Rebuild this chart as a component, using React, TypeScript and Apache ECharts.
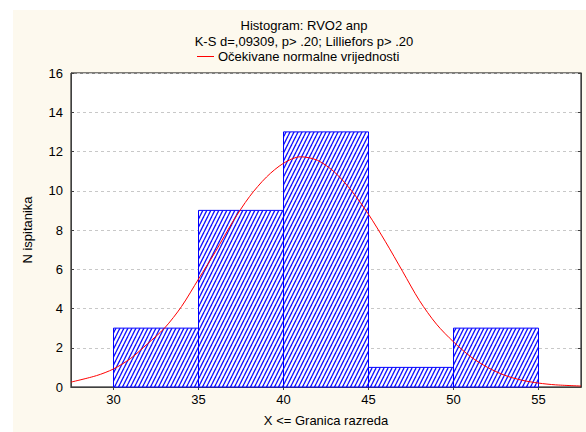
import React, { useEffect, useRef } from "react";
import * as echarts from "echarts";

// Histogram bins: lower bound, upper bound, count
const binStarts = [30, 35, 40, 45, 50];
const binEnds = [35, 40, 45, 50, 55];
const binCounts = [3, 9, 13, 1, 3];

// Expected normal curve
const curveX = [27.5, 29, 30, 31, 32, 33, 34, 35, 36, 37, 38, 39, 40, 41, 42, 43, 44, 45, 46, 47, 48, 49, 50, 51, 52, 53, 54, 55, 56, 57.5];
const curveY = [0.25, 0.58, 0.92, 1.45, 2.2, 3.0, 4.1, 5.5, 6.9, 8.4, 9.7, 10.7, 11.4, 11.73, 11.55, 10.95, 10.0, 8.8, 7.4, 5.9, 4.4, 3.2, 2.3, 1.55, 1.0, 0.6, 0.35, 0.2, 0.11, 0.05];

const xTicks = [30, 35, 40, 45, 50, 55];

const titleLine1 = "Histogram: RVO2 anp";
const titleLine2 = "K-S d=,09309, p> .20; Lilliefors p> .20";
const legendName = "Očekivane normalne vrijednosti";
const xName = "X <= Granica razreda";
const yName = "N ispitanika";

const FONT = "'Liberation Sans', Arial, sans-serif";
const FS = 13;

export default function App() {
  const ref = useRef<HTMLDivElement>(null);
  useEffect(() => {
    document.body.style.margin = "0";
    if (!ref.current) return;
    const chart = echarts.init(ref.current, null, { renderer: "svg" });

    const c = document.createElement("canvas");
    c.width = 4;
    c.height = 8;
    const ctx = c.getContext("2d")!;
    ctx.fillStyle = "#ffffff";
    ctx.fillRect(0, 0, 4, 8);
    ctx.strokeStyle = "#1010ff";
    ctx.lineWidth = 1.35;
    for (const k of [-4, 0, 4]) {
      ctx.beginPath();
      ctx.moveTo(k, 8);
      ctx.lineTo(k + 4, 0);
      ctx.stroke();
    }
    const pattern: any = { image: c, repeat: "repeat" };

    const bins = binStarts.map((s, i) => [s, binEnds[i], binCounts[i]]);
    const curve = curveX.map((x, i) => [x, curveY[i]]);

    const gridLeft = 71, gridTop = 73, gridW = 510, gridH = 320;

    chart.setOption({
      animation: false,
      backgroundColor: "#ffffff",
      textStyle: { fontFamily: FONT },
      graphic: [
        {
          type: "rect",
          z: -10,
          silent: true,
          shape: { x: 13, y: 10, width: 573, height: 422 },
          style: { fill: "#fdf9ee" },
        },
        {
          type: "text",
          x: 304,
          y: 25,
          style: {
            text: titleLine1,
            textAlign: "center",
            textVerticalAlign: "middle",
            fontSize: FS,
            fontFamily: FONT,
            fill: "#000",
          },
        },
        {
          type: "text",
          x: 304,
          y: 41,
          style: {
            text: titleLine2,
            textAlign: "center",
            textVerticalAlign: "middle",
            fontSize: FS,
            fontFamily: FONT,
            fill: "#000",
          },
        },
      ],
      legend: {
        data: [{ name: legendName, icon: "rect" }],
        left: 197,
        top: 50,
        itemWidth: 17,
        itemHeight: 1,
        itemGap: 4,
        padding: 0,
        textStyle: { fontSize: FS, color: "#000", fontFamily: FONT, padding: [0, 0, 0, -1] },
      },
      grid: {
        left: gridLeft,
        top: gridTop,
        width: gridW,
        height: gridH,
        show: true,
        backgroundColor: "#ffffff",
        borderColor: "#000",
        borderWidth: 1,
      },
      xAxis: [
        {
          type: "value",
          min: 27.5,
          max: 57.5,
          name: xName,
          nameLocation: "middle",
          nameGap: 27,
          nameTextStyle: { fontSize: FS, color: "#000", fontFamily: FONT },
          axisLine: { show: true, lineStyle: { color: "#404040", width: 1 } },
          axisTick: { show: true, inside: true, length: 3, customValues: xTicks, lineStyle: { color: "#404040" } },
          axisLabel: { customValues: xTicks, fontSize: FS, color: "#000", margin: 6, fontFamily: FONT },
          splitLine: { show: false },
        },
        {
          type: "value",
          position: "top",
          min: 27.5,
          max: 57.5,
          axisLine: { show: true, lineStyle: { color: "#404040", width: 1 } },
          axisTick: { show: true, inside: true, length: 3, customValues: xTicks, lineStyle: { color: "#404040" } },
          axisLabel: { show: false },
          splitLine: { show: false },
        },
      ],
      yAxis: [
        {
          type: "value",
          min: 0,
          max: 16,
          interval: 2,
          name: yName,
          nameLocation: "middle",
          nameGap: 37,
          nameTextStyle: { fontSize: FS, color: "#000", fontFamily: FONT },
          axisLine: { show: true, lineStyle: { color: "#404040", width: 1 } },
          axisTick: { show: true, inside: true, length: 3, lineStyle: { color: "#404040" } },
          axisLabel: { fontSize: FS, color: "#000", margin: 8, fontFamily: FONT },
          splitLine: { show: true, lineStyle: { color: "#c8c8c8", type: [3, 3], width: 1 } },
        },
        {
          type: "value",
          position: "right",
          min: 0,
          max: 16,
          interval: 2,
          axisLine: { show: true, lineStyle: { color: "#404040", width: 1 } },
          axisTick: { show: true, inside: true, length: 3, lineStyle: { color: "#404040" } },
          axisLabel: { show: false },
          splitLine: { show: false },
        },
      ],
      series: [
        {
          type: "custom",
          name: "bins",
          xAxisIndex: 0,
          yAxisIndex: 0,
          z: 2,
          encode: { x: [0, 1], y: 2 },
          data: bins,
          renderItem: (params: any, api: any) => {
            const p0 = api.coord([api.value(0), api.value(2)]);
            const p1 = api.coord([api.value(1), 0]);
            return {
              type: "rect",
              shape: { x: p0[0], y: p0[1], width: p1[0] - p0[0], height: p1[1] - p0[1] },
              style: { fill: pattern, stroke: "#0000ff", lineWidth: 1 },
            };
          },
        },
        {
          type: "line",
          name: legendName,
          xAxisIndex: 0,
          yAxisIndex: 0,
          z: 3,
          data: curve,
          smooth: 0.3,
          symbol: "none",
          showSymbol: false,
          lineStyle: { color: "#ff0000", width: 1 },
          itemStyle: { color: "#ff0000" },
        },
      ],
    });
    return () => chart.dispose();
  }, []);
  return <div ref={ref} style={{ width: 586, height: 432, position: "absolute", left: 0, top: 0 }} />;
}
